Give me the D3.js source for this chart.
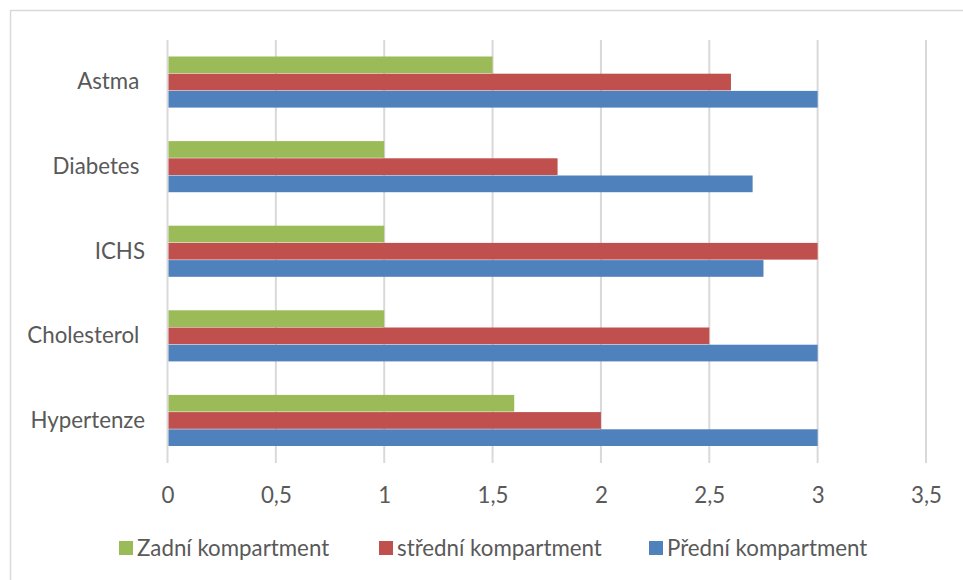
<!DOCTYPE html>
<html><head><meta charset="utf-8">
<script src="https://cdn.jsdelivr.net/npm/d3@7"></script>
<style>
html,body{margin:0;padding:0;background:#fff;}
svg text{font-family:Lato,"Open Sans",sans-serif;fill:#595959;white-space:pre;}
</style></head>
<body><svg id="c" width="963" height="580"></svg>
<script>
const categories = ["Astma ", "Diabetes ", "ICHS", "Cholesterol ", "Hypertenze"];
const seriesNames = ["Zadní kompartment", "střední kompartment", "Přední kompartment"];
const zadni   = [1.5, 1, 1, 1, 1.6];
const stredni = [2.6, 1.8, 3, 2.5, 2];
const predni  = [3, 2.7, 2.75, 3, 3];
const colors = ["#9BBB59", "#C0504D", "#4F81BD"];
const xTicks = [0, 0.5, 1, 1.5, 2, 2.5, 3, 3.5];
const tickLabels = ["0", "0,5", "1", "1,5", "2", "2,5", "3", "3,5"];

const seriesValues = [zadni, stredni, predni];
const svg = d3.select("#c");
const FS = 22.3;

// chart frame
svg.append("rect").attr("x",10.5).attr("y",10.5).attr("width",1000).attr("height",1000)
  .attr("fill","none").attr("stroke","#d9d9d9").attr("stroke-width",1.5);

const x = d3.scaleLinear().domain([0,3.5]).range([167.5, 926]);
const y = d3.scaleBand().domain(categories).range([40, 463]).paddingInner(0.39).paddingOuter(0.195);
const ys = d3.scaleBand().domain(seriesNames).range([0, y.bandwidth()]);

// gridlines
svg.append("g").selectAll("line").data(xTicks).join("line")
  .attr("x1", d=>x(d)).attr("x2", d=>x(d)).attr("y1",40).attr("y2",463)
  .attr("stroke","#d9d9d9").attr("stroke-width",2);

// bars
seriesNames.forEach((s,i)=>{
  svg.append("g").selectAll("rect").data(categories).join("rect")
    .attr("x", x(0)+1)
    .attr("y", c=>y(c)+ys(s))
    .attr("width", (c,j)=>x(seriesValues[i][j])-x(0)-1)
    .attr("height", ys.bandwidth()-0.5)
    .attr("fill", colors[i]);
});

// x axis labels
const xAxis = d3.axisBottom(x).tickValues(xTicks).tickFormat((d,i)=>tickLabels[i]).tickSize(0).tickPadding(0);
const gx = svg.append("g").attr("transform","translate(0,495)").call(xAxis);
gx.select(".domain").remove();
gx.selectAll("text").attr("dy","0.35em").attr("font-size",FS).style("font-family","Lato").attr("fill","#595959");

// y axis labels
const yAxis = d3.axisLeft(y).tickSize(0).tickPadding(0);
const gy = svg.append("g").attr("transform","translate(145,0)").call(yAxis);
gy.select(".domain").remove();
gy.selectAll("text").attr("font-size",FS).style("font-family","Lato").attr("fill","#595959");

// legend
const legendX = [119, 379, 649];
const lg = svg.append("g").selectAll("g").data(seriesNames).join("g")
  .attr("transform",(d,i)=>`translate(${legendX[i]},541)`);
lg.append("rect").attr("width",14).attr("height",14).attr("fill",(d,i)=>colors[i]);
lg.append("text").attr("x",18).attr("y",7).attr("dy","0.35em").attr("font-size",FS).text(d=>d);
</script></body></html>
